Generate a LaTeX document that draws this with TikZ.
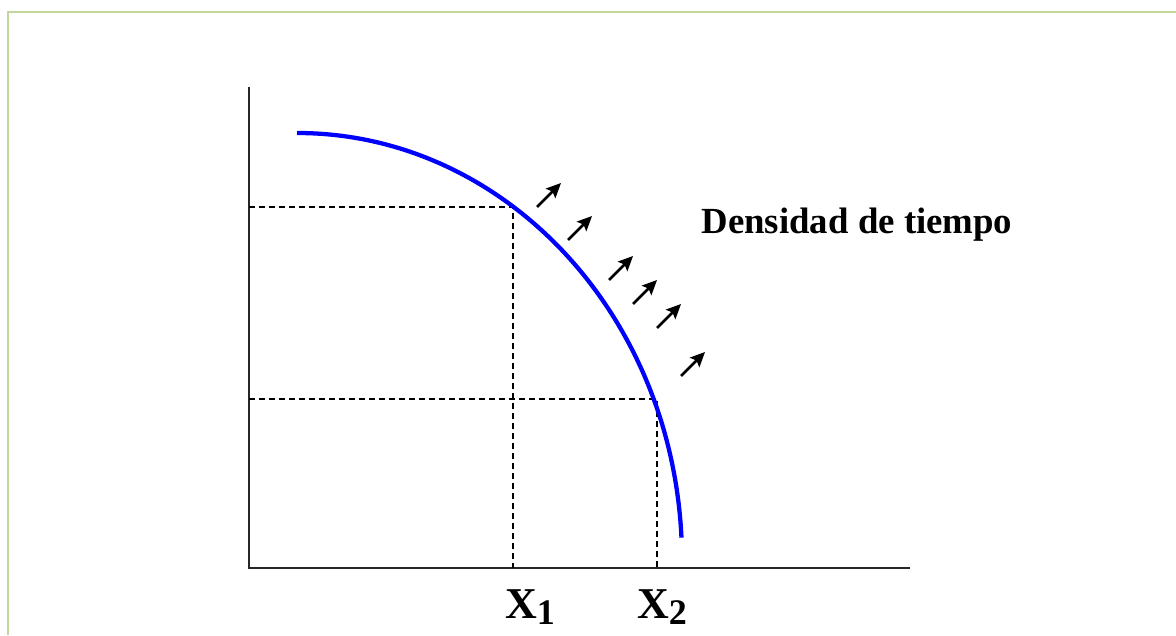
\documentclass[tikz,border=0pt]{standalone}
\usepackage{fontspec}
\setmainfont{Liberation Serif}
\usepackage{tikz}
\usetikzlibrary{calc,arrows.meta}
\usepackage[dvipsnames,svgnames]{xcolor}
\definecolor{marco}{RGB}{195,214,155}
\definecolor{curva}{RGB}{0,0,255}
\newcommand{\etiq}[1]{\fontsize{33}{35}\selectfont\textbf{X\raisebox{-4.5pt}{\fontsize{27}{29}\selectfont #1}}}

\begin{document}
\begin{tikzpicture}[x=0.75pt,y=-0.75pt]
    \useasboundingbox (0,0) rectangle (1176,635);

    % Marco verde de la diapositiva
    \draw[marco,line width=2pt] (8,635)--(8,12)--(1176,12);

    % Puntos principales de la grafica
    \coordinate (O) at (249,568);
    \coordinate (ytop) at (249,87);
    \coordinate (xfin) at (910,568);
    \coordinate (P1) at (513,207);
    \coordinate (P2) at (657,399);

    % Ejes
    \draw[line width=1.8pt,black!85] (ytop)--(O)--(xfin);

    % Lineas punteadas hacia los ejes
    \draw[line width=0.9pt,dash pattern=on 4.5pt off 3pt] (P1 -| O)--(P1)--(P1 |- O);
    \draw[line width=0.9pt,dash pattern=on 4.5pt off 3pt] (P2 -| O)--(P2)--(P2 |- O);

    % Curva azul (arco de elipse)
    \draw[curva,line width=3.2pt] (297,133) arc[start angle=-90,end angle=-3,x radius=385,y radius=427];

    % Flechas que empujan la curva hacia afuera
    \foreach \x/\y in {537/207,568/240,609/280,633/304,657/328,681/376}
        \draw[line width=2pt,-{Stealth[length=11pt,width=10pt,inset=2pt]}] (\x,\y)--++(24,-24);

    % Textos
    \node[anchor=base] (dens) at (857,233) {\fontsize{27.6}{30}\selectfont\textbf{Densidad de tiempo}};
    \node[anchor=base] (x1) at (530,618) {\etiq{1}};
    \node[anchor=base] (x2) at (662,618) {\etiq{2}};

\end{tikzpicture}
\end{document}
